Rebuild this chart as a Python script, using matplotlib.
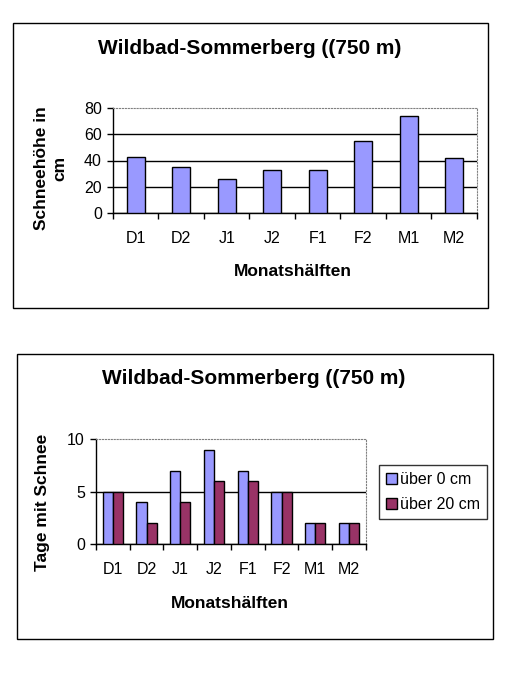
import matplotlib
matplotlib.use("Agg")
import matplotlib.pyplot as plt
from matplotlib.patches import Rectangle

plt.rcParams['font.family'] = ['Liberation Sans', 'DejaVu Sans']

halves = ['D1', 'D2', 'J1', 'J2', 'F1', 'F2', 'M1', 'M2']
depth = [43, 35, 26, 33, 33, 55, 74, 42]
days_0 = [5, 4, 7, 9, 7, 5, 2, 2]
days_20 = [5, 2, 4, 6, 6, 5, 2, 2]

title = 'Wildbad-Sommerberg ((750 m)'
blue = '#9999ff'
plum = '#993366'

W, H = 510, 700
fig = plt.figure(figsize=(W / 100, H / 100), dpi=100)
fig.patch.set_facecolor('white')


def px(x, y):
    # pixel (from top-left) -> figure fraction
    return x / W, 1 - y / H


def box(x0, y0, x1, y1):
    fig.patches.append(Rectangle(px(x0, y1), (x1 - x0) / W, (y1 - y0) / H,
                                 transform=fig.transFigure, fill=False,
                                 edgecolor='black', lw=1))


def make_axes(x0, y0, x1, y1):
    l, b = px(x0, y1)
    ax = fig.add_axes([l, b, (x1 - x0) / W, (y1 - y0) / H])
    n = len(halves)
    ax.set_xlim(-0.5, n - 0.5)
    ax.set_xticks([i - 0.5 for i in range(n + 1)])
    ax.set_xticklabels([])
    ax.set_xticks(range(n), minor=True)
    ax.set_xticklabels(halves, minor=True, fontsize=11.5)
    ax.tick_params(axis='x', which='major', direction='out', length=4, width=1)
    ax.tick_params(axis='x', which='minor', length=0, pad=13)
    ax.tick_params(axis='y', direction='out', length=4, width=1, pad=4, labelsize=11.5)
    for s in ['top', 'right']:
        ax.spines[s].set_color('#808080')
        ax.spines[s].set_linestyle(':')
        ax.spines[s].set_linewidth(0.8)
    ax.spines['left'].set_linewidth(1)
    ax.spines['bottom'].set_linewidth(1)
    ax.set_axisbelow(True)
    return ax


# ---- top chart ----
box(13, 23, 488, 308)
ax1 = make_axes(113, 108, 477, 213)
ax1.bar(range(len(halves)), depth, width=0.4, color=blue, edgecolor='black', lw=1, zorder=3)
ax1.set_ylim(0, 80)
ax1.set_yticks([0, 20, 40, 60, 80])
ax1.grid(axis='y', color='black', lw=1)
ax1.get_ygridlines()[-1].set_visible(False)
fig.text(*px(250, 48), title, ha='center', va='center', fontsize=15, fontweight='bold')
fig.text(*px(51, 168), 'Schneehöhe in\ncm', ha='center', va='center', rotation=90,
         fontsize=12.5, fontweight='bold', linespacing=1.25)
fig.text(*px(293, 272), 'Monatshälften', ha='center', va='center', fontsize=12.5, fontweight='bold')

# ---- bottom chart ----
box(17, 354, 493, 639)
ax2 = make_axes(96, 439, 366, 544)
xs = range(len(halves))
ax2.bar([x - 0.15 for x in xs], days_0, width=0.3, color=blue, edgecolor='black', lw=1,
        zorder=3, label='über 0 cm')
ax2.bar([x + 0.15 for x in xs], days_20, width=0.3, color=plum, edgecolor='black', lw=1,
        zorder=3, label='über 20 cm')
ax2.set_ylim(0, 10)
ax2.set_yticks([0, 5, 10])
ax2.grid(axis='y', color='black', lw=1)
ax2.get_ygridlines()[-1].set_visible(False)
fig.text(*px(254, 378), title, ha='center', va='center', fontsize=15, fontweight='bold')
fig.text(*px(43, 502), 'Tage mit Schnee', ha='center', va='center', rotation=90,
         fontsize=12.5, fontweight='bold')
fig.text(*px(230, 603), 'Monatshälften', ha='center', va='center', fontsize=12.5, fontweight='bold')

leg = fig.legend(loc='center', bbox_to_anchor=px(433, 492), fontsize=11.5, frameon=True,
                 fancybox=False, edgecolor='black', handlelength=0.7, handleheight=0.7,
                 handletextpad=0.2, labelspacing=0.6, borderpad=0.45, borderaxespad=0)
leg.get_frame().set_linewidth(1)

fig.savefig('out.png', dpi=100, facecolor='white')
